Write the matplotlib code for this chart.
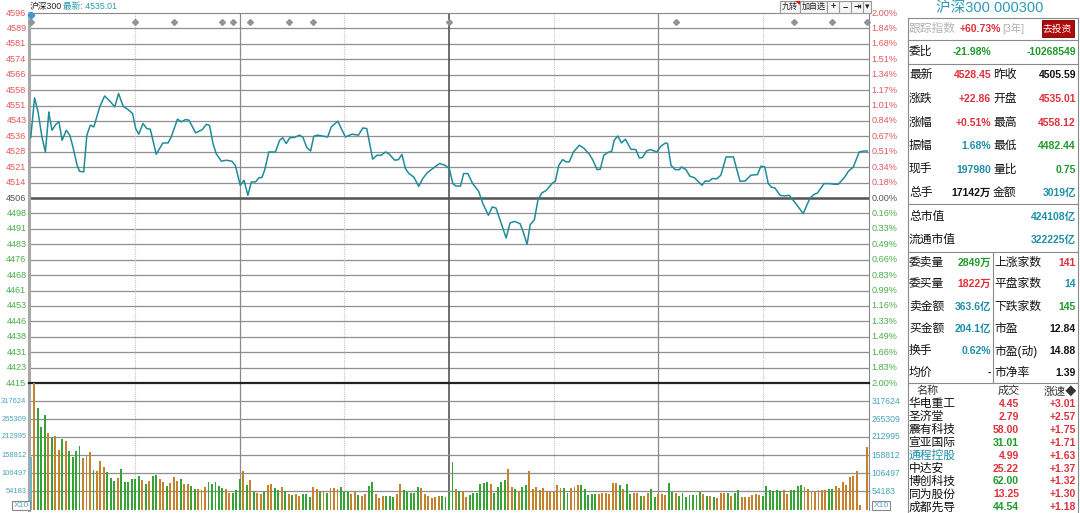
import matplotlib
matplotlib.use("Agg")
import matplotlib.pyplot as plt
from matplotlib.patches import Rectangle, Polygon

plt.rcParams['font.family'] = ['Liberation Sans', 'Noto Sans CJK SC', 'DejaVu Sans']

# ---- data ----
prev_close = 4505.59
pct_range = 90.11

line_min = [0, 1.1, 2.1, 3.2, 4.2, 5.2, 5.4, 6.1, 7.2, 8.1,
            9.0, 10.2, 11.2, 12.1, 13.3, 14.0, 15.2, 16.1, 17.1, 18.1,
            19.8, 21.2, 22.9, 24.1, 25.2, 26.5, 27.9, 29.2, 30.1, 31.0,
            32.2, 33.3, 34.3, 36.0, 37.9, 39.4, 40.3, 42.1, 43.2, 44.4,
            45.4, 47.3, 49.2, 50.4, 51.3, 52.3, 53.2, 54.7, 56.1, 57.7,
            58.7, 60.1, 61.2, 62.3, 63.3, 64.5, 65.5, 66.3, 67.1, 68.3,
            70.2, 71.4, 72.3, 73.3, 74.3, 75.7, 77.1, 78.1, 79.2, 80.3,
            81.2, 82.4, 85.2, 86.2, 88.1, 89.1, 90.3, 92.2, 94.0, 95.3,
            96.4, 98.1, 99.3, 100.5, 101.8, 102.9, 104.4, 105.5, 106.5, 107.5,
            108.5, 109.9, 111.3, 112.5, 113.7, 115.3, 117.3, 118.9, 120.1, 121.1,
            122.0, 123.3, 124.2, 125.4, 126.8, 128.5, 129.7, 131.3, 132.4, 133.5,
            134.8, 136.4, 137.5, 138.8, 140.4, 141.4, 142.4, 143.3, 144.5, 145.5,
            146.6, 147.9, 149.7, 150.5, 151.5, 152.6, 153.6, 154.5, 155.7, 157.4,
            158.8, 160.3, 161.2, 162.5, 163.4, 164.4, 165.5, 166.7, 167.4, 168.4,
            169.5, 170.6, 172.2, 173.6, 174.6, 175.5, 176.7, 177.8, 179.6, 180.8,
            182.1, 182.7, 183.7, 184.9, 186.1, 186.7, 188.0, 189.1, 190.4, 192.6,
            193.5, 194.5, 195.6, 196.8, 198.0, 199.5, 201.6, 203.5, 205.0, 206.6,
            208.5, 209.5, 210.6, 211.6, 212.5, 213.5, 215.0, 216.2, 217.6, 219.5,
            221.6, 223.5, 224.6, 225.7, 227.6, 229.1, 230.5, 231.7, 233.4, 234.6,
            236.0, 237.7, 239.1, 240]

line_price = [4535.0, 4554.4, 4547.5, 4535.4, 4528.0, 4547.5, 4545.1, 4538.6, 4541.5, 4542.7,
              4533.7, 4538.6, 4536.2, 4530.5, 4521.5, 4518.6, 4518.3, 4536.2, 4541.1, 4540.2,
              4550.0, 4555.3, 4552.4, 4550.0, 4556.5, 4550.3, 4548.7, 4546.8, 4539.4, 4536.7,
              4541.9, 4539.4, 4539.1, 4526.9, 4532.4, 4532.4, 4535.3, 4544.0, 4542.7, 4543.8,
              4543.5, 4537.3, 4538.9, 4541.5, 4540.9, 4532.1, 4527.2, 4523.5, 4524.0, 4523.5,
              4521.5, 4511.8, 4514.2, 4506.9, 4513.4, 4513.4, 4515.5, 4515.5, 4519.1, 4528.0,
              4528.0, 4533.7, 4534.9, 4532.1, 4534.9, 4535.1, 4536.2, 4535.1, 4530.2, 4528.5,
              4535.7, 4536.2, 4535.3, 4540.2, 4543.0, 4539.4, 4535.3, 4536.7, 4536.2, 4539.7,
              4539.4, 4524.5, 4526.4, 4526.4, 4528.0, 4526.9, 4524.0, 4524.3, 4526.8, 4519.9,
              4517.5, 4515.8, 4511.3, 4515.1, 4517.8, 4519.9, 4522.4, 4521.5, 4519.9, 4512.6,
              4511.4, 4511.4, 4517.5, 4517.5, 4512.6, 4508.9, 4502.9, 4497.2, 4501.2, 4500.7,
              4494.2, 4486.1, 4493.4, 4494.2, 4493.1, 4488.5, 4483.0, 4492.6, 4495.0, 4504.5,
              4508.0, 4509.3, 4512.9, 4513.7, 4521.5, 4524.3, 4523.2, 4523.2, 4528.0, 4531.3,
              4529.7, 4526.8, 4524.3, 4519.4, 4519.6, 4526.4, 4527.7, 4528.4, 4533.7, 4535.8,
              4532.4, 4534.2, 4529.3, 4529.2, 4525.1, 4525.3, 4528.5, 4529.2, 4528.0, 4530.8,
              4532.4, 4532.1, 4521.5, 4519.4, 4519.4, 4520.7, 4519.4, 4516.2, 4515.5, 4511.8,
              4513.9, 4513.7, 4515.1, 4514.9, 4516.7, 4525.6, 4525.6, 4513.7, 4513.9, 4516.7,
              4517.0, 4521.1, 4520.7, 4512.6, 4510.9, 4510.5, 4506.9, 4506.6, 4506.9, 4502.9,
              4498.0, 4505.3, 4507.2, 4508.0, 4512.6, 4512.6, 4512.3, 4512.3, 4515.5, 4518.6,
              4520.7, 4528.0, 4528.5, 4528.45]

vol = [154000, 380000, 297000, 241500, 277000, 223000, 210000, 215000, 174600, 207200,
       202200, 170500, 154000, 172600, 187400, 151000, 160700, 167500, 116300, 113400,
       140900, 125200, 109500, 91800, 83800, 92600, 118400, 81700, 81700, 88800,
       89700, 99500, 86700, 74000, 83800, 99500, 101500, 90600, 79900, 69000,
       77800, 94700, 84700, 89700, 74900, 74000, 69000, 61000, 61000, 57100,
       65100, 81700, 74900, 79900, 69000, 64000, 59200, 48200, 47300, 57100,
       89700, 113400, 71900, 87600, 54200, 47300, 45300, 52100, 71000, 75800,
       62200, 57100, 66000, 55100, 44400, 42300, 45300, 40300, 44400, 44400,
       36400, 67000, 60100, 52100, 52100, 49100, 62200, 64000, 60100, 65100,
       52100, 52100, 44400, 52100, 42300, 39400, 45300, 69000, 79900, 44400,
       34300, 40300, 39400, 39400, 37300, 45300, 75800, 57100, 50300, 49100,
       47400, 65100, 63000, 45300, 39400, 34300, 36400, 40300, 40300, 36400,
       47400, 139100, 59200, 55100, 50300, 36400, 42300, 47400, 49100, 75800,
       77000, 81700, 75800, 47400, 67000, 79900, 86700, 118400, 65100, 59200,
       52100, 65100, 72800, 113400, 60100, 67000, 57100, 62200, 52100, 52100,
       52100, 71000, 64000, 62200, 49100, 64000, 67000, 70800, 71000, 60100,
       42300, 45300, 45300, 44400, 49100, 47400, 44400, 78800, 77000, 71000,
       60100, 74900, 45300, 49100, 49100, 40300, 40300, 47400, 59200, 37300,
       44400, 44400, 42300, 78800, 52100, 49100, 40300, 49100, 35300, 42300,
       42300, 42300, 52100, 44400, 39400, 39400, 37300, 34300, 49100, 49100,
       47400, 39400, 47400, 57100, 37300, 37300, 35300, 41300, 45300, 42300,
       39400, 69000, 57100, 55100, 57100, 55100, 57100, 44400, 57100, 57100,
       70000, 72800, 67000, 60100, 52100, 52100, 57100, 57100, 57100, 60100,
       60100, 69000, 62200, 81700, 71000, 94700, 98600, 113400, 12700, 0,
       183500]

# o = up (orange), g = down (green), b = opening bar
vol_side = "".join(["bogggogoog", "oggggooogo", "oogggogggg", "ggogoggoog",
                    "ooogooggoo", "ogggggoogg", "gogogoogoo", "ggogogoogg",
                    "googogooog", "ggoogooggo", "oogggooggg", "ggoooooogg",
                    "ggogoogggg", "ggoggggoog", "oggooooooo", "oooggooogg",
                    "gggoooooog", "oggoogoogg", "oooggogggg", "gggogogooo",
                    "goggoooooo", "ggggggoogg", "ggooooooog", "gooooooooo",
                    "o"])

marker_min = [0, 30, 41, 55, 58, 63, 74, 81, 120, 185, 219, 230, 240]

price_labels = ["4596", "4589", "4581", "4574", "4566", "4558", "4551", "4543", "4536",
                "4528", "4521", "4514", "4506", "4498", "4491", "4483", "4476", "4468",
                "4461", "4453", "4446", "4438", "4431", "4423", "4415"]
pct_labels = ["2.00%", "1.84%", "1.68%", "1.51%", "1.34%", "1.17%", "1.01%", "0.84%",
              "0.67%", "0.51%", "0.34%", "0.18%", "0.00%", "0.16%", "0.33%", "0.49%",
              "0.66%", "0.83%", "0.99%", "1.16%", "1.33%", "1.49%", "1.66%", "1.83%", "2.00%"]
vol_ticks = [54183, 106497, 158812, 212995, 265309, 317624]

quote_left_names = ["最新", "涨跌", "涨幅", "振幅", "现手", "总手"]
quote_left_vals = ["4528.45", "+22.86", "+0.51%", "1.68%", "197980", "17142万"]
quote_left_cols = ["r", "r", "r", "t", "t", "k"]
quote_right_names = ["昨收", "开盘", "最高", "最低", "量比", "金额"]
quote_right_vals = ["4505.59", "4535.01", "4558.12", "4482.44", "0.75", "3019亿"]
quote_right_cols = ["k", "r", "r", "g", "g", "t"]

cap_names = ["总市值", "流通市值"]
cap_vals = ["424108亿", "322225亿"]

book_left_names = ["委卖量", "委买量", "卖金额", "买金额", "换手", "均价"]
book_left_vals = ["2849万", "1822万", "363.6亿", "204.1亿", "0.62%", "-"]
book_left_cols = ["g", "r", "t", "t", "t", "k"]
book_right_names = ["上涨家数", "平盘家数", "下跌家数", "市盈", "市盈(动)", "市净率"]
book_right_vals = ["141", "14", "145", "12.84", "14.88", "1.39"]
book_right_cols = ["r", "t", "g", "k", "k", "k"]

stock_names = ["华电重工", "圣济堂", "震有科技", "宣亚国际", "通程控股",
               "中达安", "博创科技", "同为股份", "成都先导"]
stock_prices = ["4.45", "2.79", "58.00", "31.01", "4.99", "25.22", "62.00", "13.25", "44.54"]
stock_price_cols = ["r", "r", "r", "g", "r", "r", "g", "r", "g"]
stock_speed = ["+3.01", "+2.57", "+1.75", "+1.71", "+1.63", "+1.37", "+1.32", "+1.30", "+1.18"]

# ---- styling ----
RED = '#e0303c'
GREEN = '#1f9a2a'
TEAL = '#1f8ea8'
BLACK = '#111111'
col = {'r': RED, 'g': GREEN, 't': TEAL, 'k': BLACK}
bar_col = {'o': '#c4822e', 'g': '#36a336', 'b': '#6ab6cf'}
GRID = '#8f8f8f'

W, H = 1080, 513
fig = plt.figure(figsize=(W / 100, H / 100), dpi=100)
fig.patch.set_facecolor('white')


def frac(x0, y0, x1, y1):
    return [x0 / W, 1 - y1 / H, (x1 - x0) / W, (y1 - y0) / H]


ax = fig.add_axes(frac(29, 13, 869, 383))
axv = fig.add_axes(frac(29, 383, 869, 509.5))
ov = fig.add_axes([0, 0, 1, 1])
ov.set_xlim(0, W)
ov.set_ylim(H, 0)
ov.axis('off')
ov.set_zorder(10)

# ---- price panel ----
step = pct_range / 12
levels = [prev_close + step * k for k in range(12, -13, -1)]
ax.set_xlim(-0.5, 240.5)
ax.set_ylim(prev_close - pct_range, prev_close + pct_range)
ax.set_xticks([])
ax.set_yticks([])
for lv in levels[1:-1]:
    ax.axhline(lv, color=GRID, lw=0.9, zorder=1)
ax.axhline(prev_close, color='#555555', lw=1.8, zorder=2)

for a in (ax, axv):
    for m in (30, 90, 150, 210):
        a.axvline(m, color='#c4c4c4', lw=0.8, ls=(0, (1, 1)), zorder=1)
    for m in (60, 180):
        a.axvline(m, color='#8a8a8a', lw=0.9, zorder=1)
    a.axvline(120, color='#555555', lw=1.2, zorder=1)
    a.spines['left'].set_color('#a8a8a8')
    a.spines['left'].set_linewidth(2.2)
    a.spines['right'].set_color('#888888')
    a.spines['top'].set_color('#888888')
    a.spines['bottom'].set_visible(False)

axv.spines['top'].set_color('#222222')
axv.spines['top'].set_linewidth(1.6)

ax.plot(line_min, line_price, color='#1f8c99', lw=1.1, zorder=5)

ytr = ax.get_yaxis_transform()
for i, (lv, lab, pl) in enumerate(zip(levels, price_labels, pct_labels)):
    if i < 12:
        c = '#e4585d'
    elif i == 12:
        c = '#555555'
    else:
        c = '#48b048'
    ax.text(-0.003, lv, lab, transform=ytr, ha='right', va='center',
            fontsize=6.6, color=c, clip_on=False)
    ax.text(1.003, lv, pl, transform=ytr, ha='left', va='center',
            fontsize=6.6, color=c, clip_on=False)

xtr = ax.get_xaxis_transform()
ax.plot(marker_min, [0.976] * len(marker_min), 'D', ms=3.0, color='#8c9696',
        transform=xtr, clip_on=False, zorder=6)
ax.plot([0], [0.995], 'D', ms=3.4, color='#3a9ad8', transform=xtr,
        clip_on=False, zorder=7)

# ---- volume panel ----
axv.set_xlim(-0.5, 240.5)
axv.set_ylim(0, 371000)
axv.set_xticks([])
axv.set_yticks([])
for t in vol_ticks:
    axv.axhline(t, color=GRID, lw=0.9, zorder=1)
axv.bar(range(len(vol)), vol, width=0.55, color=[bar_col[s] for s in vol_side],
        linewidth=0, zorder=3)
vtr = axv.get_yaxis_transform()
for t in vol_ticks:
    axv.text(-0.003, t, str(t), transform=vtr, ha='right', va='center',
             fontsize=5.4, color='#47a4b9', clip_on=False)
    axv.text(1.003, t, str(t), transform=vtr, ha='left', va='center',
             fontsize=6.2, color='#47a4b9', clip_on=False)
for x in (21, 881):
    ov.text(x, 505.5, "X10", ha='center', va='center', fontsize=6, color='#47a4b9',
            bbox=dict(boxstyle='square,pad=0.15', fc='white', ec='#888888', lw=0.8))

# ---- header and toolbar ----
ov.text(30, 6, "沪深300", fontsize=6.3, color='#222222', va='center')
ov.text(63, 6, "最新: 4535.01", fontsize=6.3, color='#2a9aaa', va='center')

buttons = [(780, 800, "九转"), (800, 827, "加自选"), (827, 839, "+"),
           (839, 851, "−"), (851, 863, "⇥"), (863, 871, "▾")]
for x0, x1, lab in buttons:
    ov.add_patch(Rectangle((x0, 0.5), x1 - x0, 12.5, fc='#f6f6f6', ec='#9a9a9a', lw=0.8))
    ov.text((x0 + x1) / 2, 7, lab, ha='center', va='center',
            fontsize=6.5 if len(lab) == 1 else 5.8,
            color='#222222', fontweight='bold' if len(lab) == 1 else 'normal')
ov.add_patch(Polygon([(795, 0.5), (800, 0.5), (800, 4.5)], closed=True, fc='#e01010', ec='none'))

# ---- quote panel ----
PL, PR, PM = 907.5, 1078, 993
for y in (18, 39.5, 64, 203.5, 252, 383):
    ov.plot([PL, PR], [y, y], color='#8a8a8a', lw=0.8)
ov.plot([PL, PL], [18, H], color='#8a8a8a', lw=0.8)
ov.plot([PR, PR], [18, H], color='#8a8a8a', lw=0.8)
ov.plot([PM, PM], [252, 383], color='#8a8a8a', lw=0.8)

ov.text(990, 8, "沪深300 000300", ha='center', va='center', fontsize=10.5, color='#2b9ab8')

ov.text(909, 28.5, "跟踪指数", va='center', fontsize=8.5, color='#b4b4b4')
ov.text(1001, 28.5, "+60.73%", ha='right', va='center', fontsize=7.5, color=RED, fontweight='bold')
ov.text(1002, 28.5, "[3年]", ha='left', va='center', fontsize=7.5, color='#b0b0b0')
ov.add_patch(Rectangle((1041.5, 20), 32, 17, fc='#b10a0a', ec='#700000', lw=0.6))
ov.text(1057.5, 28.5, "去投资", ha='center', va='center', fontsize=7, color='white')

ov.text(909, 52, "委比", va='center', fontsize=8.5, color=BLACK)
ov.text(991, 52, "-21.98%", ha='right', va='center', fontsize=7.5, color=GREEN, fontweight='bold')
ov.text(1076, 52, "-10268549", ha='right', va='center', fontsize=7.5, color=GREEN, fontweight='bold')

quote_y = [75, 99, 122.7, 146, 170, 193.3]
for i, y in enumerate(quote_y):
    ov.text(909, y, quote_left_names[i], va='center', fontsize=8.5, color=BLACK)
    ov.text(991, y, quote_left_vals[i], ha='right', va='center', fontsize=7.5,
            color=col[quote_left_cols[i]], fontweight='bold')
    ov.text(993, y, quote_right_names[i], va='center', fontsize=8.5, color=BLACK)
    ov.text(1076, y, quote_right_vals[i], ha='right', va='center', fontsize=7.5,
            color=col[quote_right_cols[i]], fontweight='bold')

for y, name, val in zip([217.3, 240], cap_names, cap_vals):
    ov.text(909, y, name, va='center', fontsize=8.5, color=BLACK)
    ov.text(1076, y, val, ha='right', va='center', fontsize=7.5, color=TEAL, fontweight='bold')

book_y = [263.3, 284.3, 306.7, 329, 351, 373.3]
for i, y in enumerate(book_y):
    ov.text(909, y, book_left_names[i], va='center', fontsize=8.5, color=BLACK)
    ov.text(991, y, book_left_vals[i], ha='right', va='center', fontsize=7.5,
            color=col[book_left_cols[i]], fontweight='bold')
    ov.text(994, y, book_right_names[i], va='center', fontsize=8.5, color=BLACK)
    ov.text(1076, y, book_right_vals[i], ha='right', va='center', fontsize=7.5,
            color=col[book_right_cols[i]], fontweight='bold')

ov.text(928, 391, "名称", ha='center', va='center', fontsize=8, color='#333333')
ov.text(1009, 391, "成交", ha='center', va='center', fontsize=8, color='#333333')
ov.text(1077, 391, "涨速◆", ha='right', va='center', fontsize=8, color='#333333')

for i, name in enumerate(stock_names):
    y = 403.8 + i * 12.95
    ov.text(908.5, y, name, va='center', fontsize=8.5, color=TEAL if name == "通程控股" else BLACK)
    ov.text(1019, y, stock_prices[i], ha='right', va='center', fontsize=7.5,
            color=col[stock_price_cols[i]], fontweight='bold')
    ov.text(1076, y, stock_speed[i], ha='right', va='center', fontsize=7.5,
            color=RED, fontweight='bold')

fig.savefig("out.png", dpi=100)
